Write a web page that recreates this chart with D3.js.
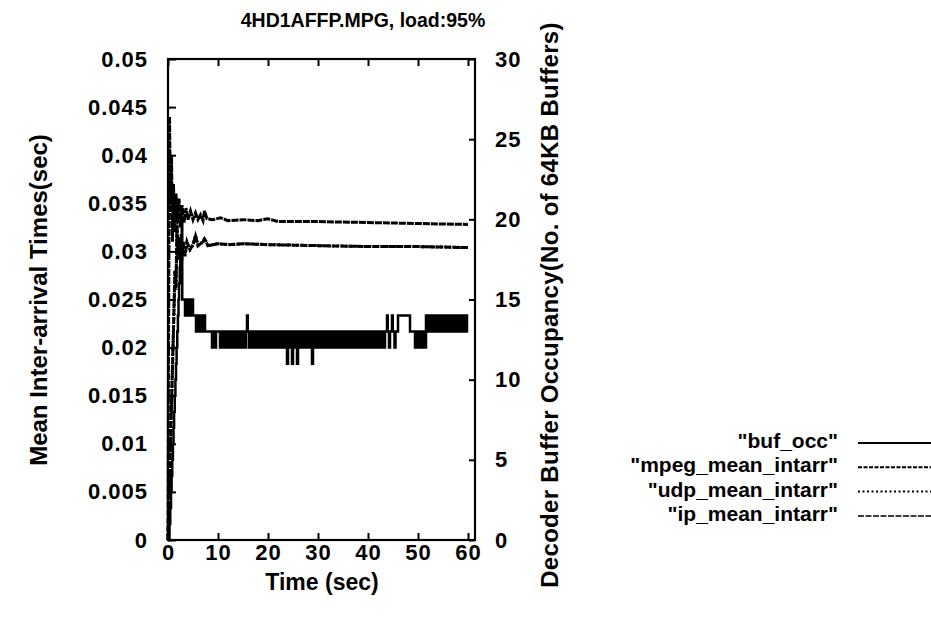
<!DOCTYPE html>
<html>
<head>
<meta charset="utf-8">
<script src="https://cdn.jsdelivr.net/npm/d3@7"></script>
<style>
  body { margin: 0; background: #fff; }
  text { font-family: 'Liberation Sans', Arial, sans-serif; font-weight: bold; fill: #000; }
</style>
</head>
<body>
<div id="chart"></div>
<script>
// chart text
const title = '4HD1AFFP.MPG, load:95%';
const xLabel = 'Time (sec)';
const yLabel = 'Mean Inter-arrival Times(sec)';
const y2Label = 'Decoder Buffer Occupancy(No. of 64KB Buffers)';

// ticks
const xTicks = [0, 10, 20, 30, 40, 50, 60];
const yTicks = [0, 0.005, 0.01, 0.015, 0.02, 0.025, 0.03, 0.035, 0.04, 0.045, 0.05];
const y2Ticks = [0, 5, 10, 15, 20, 25, 30];

// series names (legend order)
const seriesNames = ['"buf_occ"', '"mpeg_mean_intarr"', '"udp_mean_intarr"', '"ip_mean_intarr"'];

// buffer occupancy, [time, buffers] read as steps
const bufOcc = [
  [0, 0], [0.3, 1], [0.45, 2], [0.6, 3], [0.72, 4], [0.85, 5], [0.98, 6], [1.1, 7], [1.22, 8], [1.35, 9],
  [1.48, 10], [1.6, 11], [1.72, 12], [1.85, 13], [1.98, 14], [2.1, 15], [2.22, 16], [2.35, 17], [2.48, 18],
  [2.6, 19], [2.75, 20], [2.85, 15], [3.4, 14], [3.6, 15], [4.0, 14], [4.2, 15], [4.5, 14], [4.7, 15],
  [5.0, 14], [5.6, 13], [5.8, 14], [6.2, 13], [6.4, 14], [6.8, 13], [7.0, 14], [7.4, 13],
  [8.8, 12], [9.0, 13], [9.4, 12], [9.6, 13], [10.4, 12], [10.6, 13], [11.0, 12], [11.2, 13], [11.5, 12],
  [11.7, 13], [12.0, 12], [12.2, 13], [12.5, 12], [12.7, 13], [13.0, 12], [13.2, 13], [13.5, 12], [13.7, 13],
  [14.0, 12], [14.2, 13], [14.4, 12], [14.6, 13], [14.9, 12], [15.1, 13], [15.4, 12], [15.6, 13],
  [15.8, 14], [15.95, 13], [16.2, 12], [16.4, 13], [16.7, 12], [16.9, 13], [17.2, 12], [17.4, 13],
  [17.7, 12], [17.9, 13], [18.2, 12], [18.4, 13], [18.7, 12], [18.9, 13], [19.2, 12], [19.4, 13],
  [19.7, 12], [19.9, 13], [20.2, 12], [20.4, 13], [20.7, 12], [20.9, 13], [21.2, 12], [21.4, 13],
  [21.7, 12], [21.9, 13], [22.2, 12], [22.4, 13], [22.7, 12], [22.9, 13], [23.2, 12], [23.4, 13],
  [23.8, 11], [24.0, 13], [24.2, 12], [24.4, 13], [24.8, 11], [25.0, 13], [25.2, 12], [25.4, 13],
  [25.8, 11], [26.0, 13], [26.2, 12], [26.4, 13], [26.7, 12], [26.9, 13], [27.2, 12], [27.4, 13],
  [27.7, 12], [27.9, 13], [28.2, 12], [28.4, 13], [28.8, 11], [29.0, 13], [29.2, 12], [29.4, 13],
  [29.7, 12], [29.9, 13], [30.2, 12], [30.4, 13], [30.7, 12], [30.9, 13], [31.2, 12], [31.4, 13],
  [31.7, 12], [31.9, 13], [32.2, 12], [32.4, 13], [32.7, 12], [32.9, 13], [33.2, 12], [33.4, 13],
  [33.7, 12], [33.9, 13], [34.2, 12], [34.4, 13], [34.7, 12], [34.9, 13], [35.2, 12], [35.4, 13],
  [35.7, 12], [35.9, 13], [36.2, 12], [36.4, 13], [36.7, 12], [36.9, 13], [37.2, 12], [37.4, 13],
  [37.7, 12], [37.9, 13], [38.2, 12], [38.4, 13], [38.7, 12], [38.9, 13], [39.2, 12], [39.4, 13],
  [39.7, 12], [39.9, 13], [40.2, 12], [40.4, 13], [40.7, 12], [40.9, 13], [41.2, 12], [41.4, 13],
  [41.7, 12], [41.9, 13], [42.2, 12], [42.4, 13], [42.7, 12], [42.9, 13], [43.2, 12], [43.4, 13],
  [43.8, 14], [43.95, 13], [44.2, 12], [44.4, 13], [44.8, 14], [44.95, 13], [45.3, 12], [45.5, 13],
  [46.0, 14], [48.4, 13], [49.4, 12], [49.6, 13], [49.9, 12], [50.1, 13], [50.4, 12], [50.6, 13],
  [50.9, 12], [51.1, 13], [51.3, 12], [51.6, 14], [51.8, 13], [52.1, 14], [52.3, 13], [52.6, 14],
  [52.8, 13], [53.1, 14], [53.3, 13], [53.6, 14], [53.8, 13], [54.1, 14], [54.3, 13], [54.6, 14],
  [54.8, 13], [55.1, 14], [55.3, 13], [55.6, 14], [55.8, 13], [56.1, 14], [56.3, 13], [56.6, 14],
  [56.8, 13], [57.1, 14], [57.3, 13], [57.6, 14], [57.8, 13], [58.1, 14], [58.3, 13], [58.6, 14],
  [58.8, 13], [59.1, 14], [59.3, 13], [59.6, 14], [59.8, 13], [60.0, 13]
];

// mean inter-arrival times, [time, sec]
const mpegMean = [
  [0, 0], [0.1, 0.02], [0.3, 0.044], [0.5, 0.035], [0.7, 0.04], [0.9, 0.031], [1.1, 0.037], [1.3, 0.032],
  [1.6, 0.036], [1.9, 0.033], [2.2, 0.0355], [2.5, 0.0325], [2.8, 0.0348], [3.2, 0.033], [3.6, 0.0345],
  [4.0, 0.0333], [4.5, 0.0342], [5.0, 0.0333], [5.5, 0.034], [6.0, 0.0333], [6.5, 0.0338], [7.0, 0.0332],
  [7.3, 0.0342], [7.8, 0.0334], [9, 0.0333], [10.5, 0.0335], [12, 0.0332], [15, 0.0333], [18, 0.0332],
  [20, 0.0334], [22, 0.0331], [30, 0.0331], [40, 0.033], [50, 0.0329], [60, 0.0328]
];
const udpMean = [
  [0, 0], [1.4, 0.028], [1.6, 0.026], [1.8, 0.033], [2.0, 0.029], [2.3, 0.0315], [2.6, 0.028], [3.0, 0.031],
  [3.4, 0.0295], [3.8, 0.031], [4.4, 0.0302], [5.0, 0.0307], [5.5, 0.0317], [6.0, 0.0306], [7.0, 0.031],
  [7.3, 0.0314], [8, 0.0306], [10, 0.0308], [12, 0.0307], [15, 0.0308], [20, 0.0307], [30, 0.0306],
  [40, 0.0305], [50, 0.0305], [60, 0.0304]
];
const ipMean = [
  [0, 0], [1.4, 0.028], [1.6, 0.0262], [1.8, 0.0328], [2.0, 0.0292], [2.3, 0.0314], [2.6, 0.0282], [3.0, 0.031],
  [3.4, 0.0296], [3.8, 0.0309], [4.4, 0.0302], [5.0, 0.0307], [5.5, 0.0316], [6.0, 0.0306], [7.0, 0.031],
  [7.3, 0.0313], [8, 0.0306], [10, 0.0308], [12, 0.0307], [15, 0.0308], [20, 0.0307], [30, 0.0306],
  [40, 0.0305], [50, 0.0305], [60, 0.0304]
];

const width = 931, height = 622;
const marginLeft = 168, marginRight = 456, marginTop = 59, marginBottom = 82;

const x = d3.scaleLinear([0, 61.4], [marginLeft, width - marginRight]);
const y = d3.scaleLinear([0, 0.05], [height - marginBottom, marginTop]);
const y2 = d3.scaleLinear([0, 30], [height - marginBottom, marginTop]);

const svg = d3.create('svg')
  .attr('width', width)
  .attr('height', height)
  .attr('viewBox', [0, 0, width, height]);

svg.append('rect').attr('width', width).attr('height', height).attr('fill', '#fff');

// axes with inward ticks
svg.append('g')
  .attr('transform', `translate(0,${height - marginBottom})`)
  .call(d3.axisBottom(x).tickValues(xTicks).tickSizeInner(-7).tickSizeOuter(0).tickPadding(4))
  .call(g => g.select('.domain').remove())
  .call(g => g.selectAll('text').attr('font-size', 22).attr('letter-spacing', 1));

svg.append('g')
  .attr('transform', `translate(0,${marginTop})`)
  .call(d3.axisTop(x).tickValues(xTicks).tickSizeInner(-7).tickSizeOuter(0).tickFormat(''))
  .call(g => g.select('.domain').remove());

svg.append('g')
  .attr('transform', `translate(${marginLeft},0)`)
  .call(d3.axisLeft(y).tickValues(yTicks).tickSizeInner(-8).tickSizeOuter(0).tickPadding(20)
    .tickFormat(d => d3.format('~g')(d)))
  .call(g => g.select('.domain').remove())
  .call(g => g.selectAll('text').attr('font-size', 22).attr('letter-spacing', 1));

svg.append('g')
  .attr('transform', `translate(${width - marginRight},0)`)
  .call(d3.axisRight(y2).tickValues(y2Ticks).tickSizeInner(-6).tickSizeOuter(0).tickPadding(20))
  .call(g => g.select('.domain').remove())
  .call(g => g.selectAll('text').attr('font-size', 22).attr('letter-spacing', 1));

svg.selectAll('.tick line').attr('stroke', '#000').attr('stroke-width', 2);
svg.selectAll('.tick text').attr('fill', '#000').attr('font-family', null);

// frame
svg.append('rect')
  .attr('x', marginLeft).attr('y', marginTop)
  .attr('width', width - marginRight - marginLeft)
  .attr('height', height - marginBottom - marginTop)
  .attr('fill', 'none').attr('stroke', '#000').attr('stroke-width', 2.2);

// lines
const meanLine = d3.line().x(d => x(d[0])).y(d => y(d[1]));
const bufLine = d3.line().curve(d3.curveStepAfter).x(d => x(d[0])).y(d => y2(d[1]));

const styles = [
  {dash: null, width: 2},
  {dash: '4,1.5', width: 2},
  {dash: '2,2.5', width: 2},
  {dash: '6,1.5', width: 1.5}
];

const plot = svg.append('g').attr('fill', 'none').attr('stroke', '#000');
plot.append('path').attr('d', meanLine(ipMean))
  .attr('stroke-width', 3).attr('stroke-dasharray', '7,1');
plot.append('path').attr('d', meanLine(udpMean))
  .attr('stroke-width', 3).attr('stroke-dasharray', styles[2].dash);
plot.append('path').attr('d', meanLine(mpegMean))
  .attr('stroke-width', 3).attr('stroke-dasharray', '7,1');
plot.append('path').attr('d', bufLine(bufOcc))
  .attr('stroke-width', 2.5).attr('stroke-linejoin', 'miter');

// legend
const legend = svg.append('g')
  .selectAll('g')
  .data(seriesNames)
  .join('g')
  .attr('transform', (d, i) => `translate(0,${448 + i * 24.3})`);

legend.append('text')
  .attr('x', 838)
  .attr('text-anchor', 'end')
  .attr('font-size', 21)
  .text(d => d);

legend.append('line')
  .attr('x1', 858).attr('x2', 931)
  .attr('y1', -5).attr('y2', -5)
  .attr('stroke', '#000')
  .attr('stroke-width', (d, i) => styles[i].width)
  .attr('stroke-dasharray', (d, i) => styles[i].dash);

// titles
svg.append('text')
  .attr('x', 363).attr('y', 27)
  .attr('text-anchor', 'middle')
  .attr('font-size', 19.5)
  .text(title);

svg.append('text')
  .attr('x', 322).attr('y', 590)
  .attr('text-anchor', 'middle')
  .attr('font-size', 23)
  .text(xLabel);

svg.append('text')
  .attr('transform', 'translate(47,300) rotate(-90)')
  .attr('text-anchor', 'middle')
  .attr('font-size', 24)
  .text(yLabel);

svg.append('text')
  .attr('transform', 'translate(558,305) rotate(-90)')
  .attr('text-anchor', 'middle')
  .attr('font-size', 24)
  .attr('letter-spacing', 0.3)
  .text(y2Label);

d3.select('#chart').append(() => svg.node());
</script>
</body>
</html>
